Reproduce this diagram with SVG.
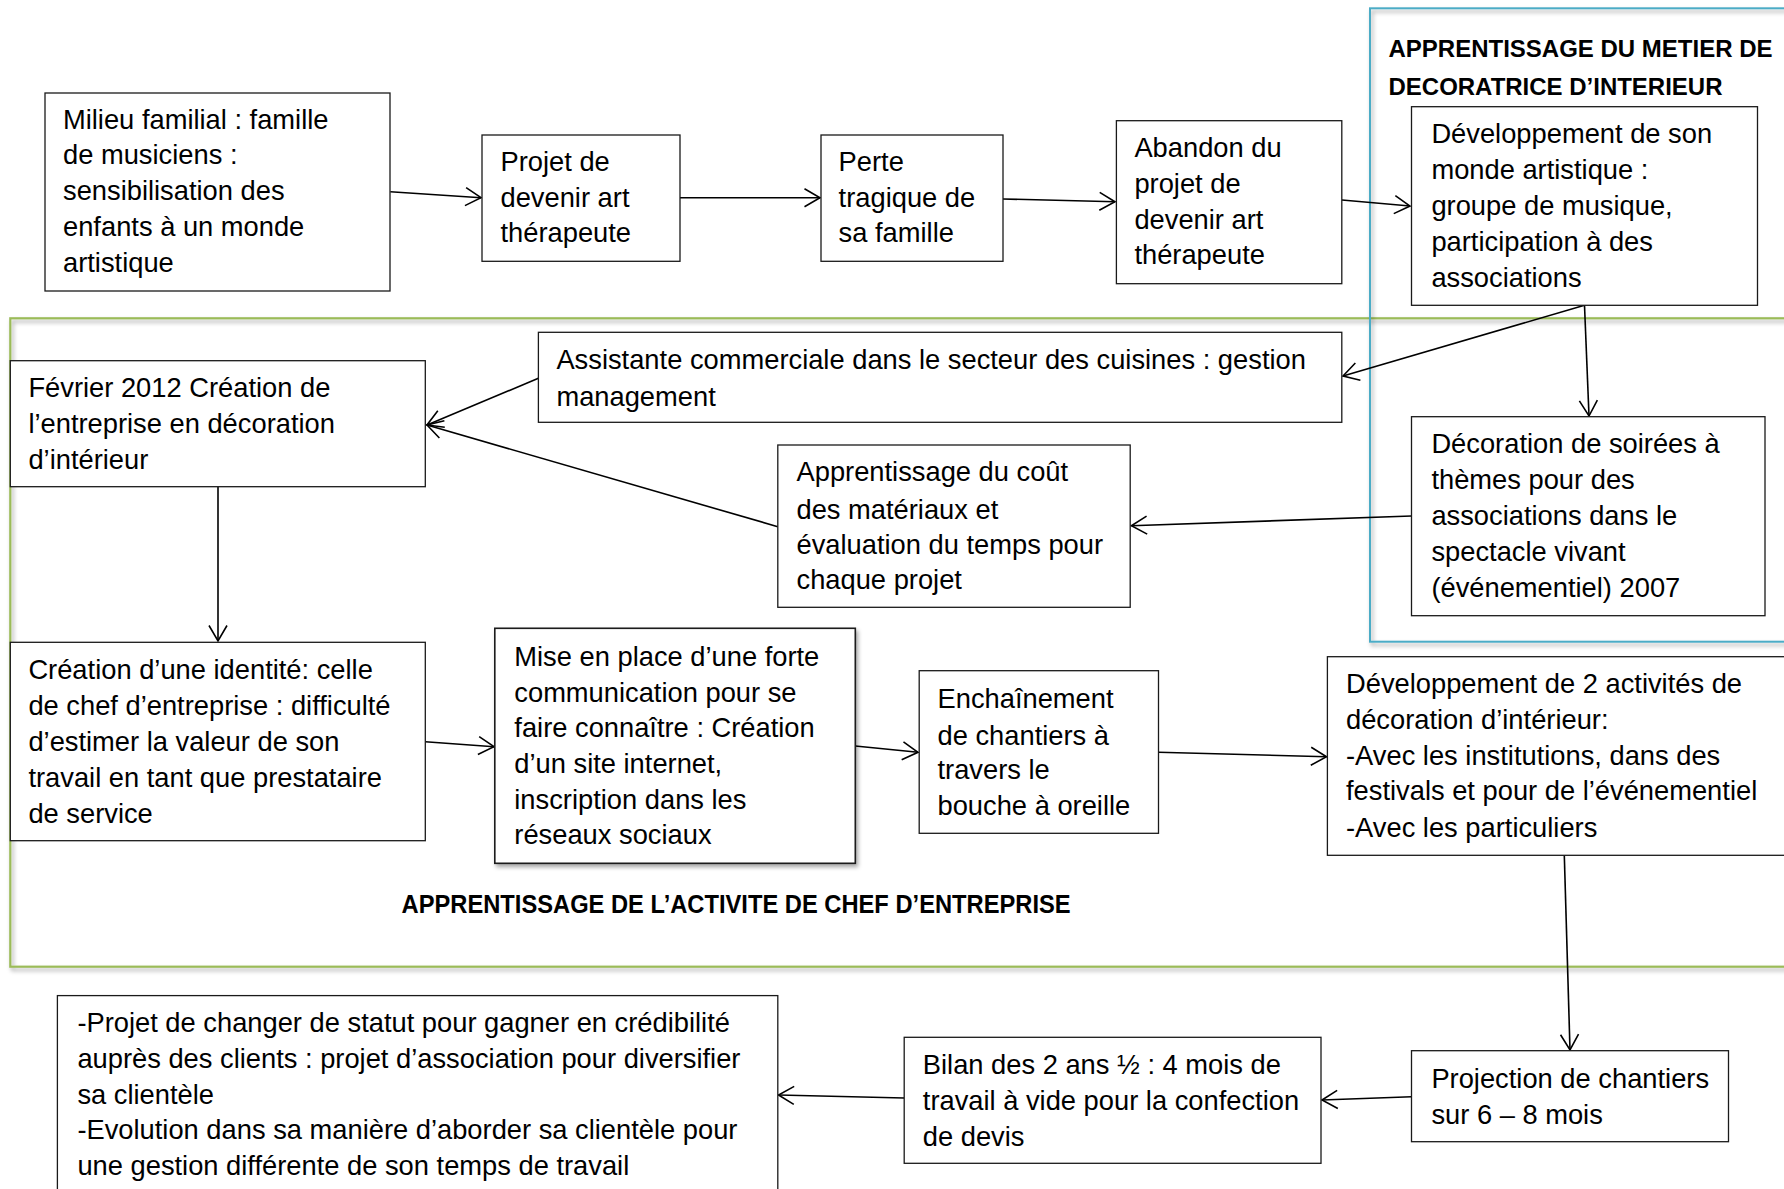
<svg xmlns="http://www.w3.org/2000/svg" width="1784" height="1189" viewBox="0 0 1784 1189">
<style>
  .bg{fill:#ffffff}
  .box{fill:#ffffff;stroke:#1a1a1a;stroke-width:1.3}
  .t{font-family:"Liberation Sans",Arial,sans-serif;font-size:27.3px;fill:#000}
  .title{font-family:"Liberation Sans",Arial,sans-serif;font-size:26px;font-weight:bold;fill:#000}
  .title-s{font-family:"Liberation Sans",Arial,sans-serif;font-size:23.5px;font-weight:bold;fill:#000}
  .con{fill:none;stroke:#000;stroke-width:1.6}
  .grp-blue{fill:none;stroke:#4bacc6;stroke-width:2}
  .grp-green{fill:none;stroke:#9bbb59;stroke-width:2.2}
</style>
<defs>
  <marker id="arr" viewBox="-18 -11 20 22" refX="0" refY="0" markerWidth="20" markerHeight="22" markerUnits="userSpaceOnUse" orient="auto">
    <path d="M-15.5,-9 L0,0 L-15.5,9" fill="none" stroke="#000" stroke-width="1.6"/>
  </marker>
  <filter id="sh" x="-5%" y="-5%" width="115%" height="115%">
    <feDropShadow dx="2" dy="3" stdDeviation="2" flood-color="#000" flood-opacity="0.35"/>
  </filter>
</defs>
<rect class="bg" x="0" y="0" width="1784" height="1189"/>

<g id="group-chef-entreprise">
  <rect class="grp-green" x="10.3" y="318.3" width="1800" height="648.4" filter="url(#sh)"/>
  <text class="title" x="401.6" y="913" textLength="669" lengthAdjust="spacingAndGlyphs">APPRENTISSAGE DE L’ACTIVITE DE CHEF D’ENTREPRISE</text>
</g>
<g id="group-decoratrice">
  <rect class="grp-blue" x="1370" y="8.3" width="440" height="633.4" filter="url(#sh)"/>
  <text class="title-s" x="1388.5" y="56.7" textLength="384" lengthAdjust="spacingAndGlyphs">APPRENTISSAGE DU METIER DE</text>
  <text class="title-s" x="1388.5" y="94.8" textLength="334" lengthAdjust="spacingAndGlyphs">DECORATRICE D’INTERIEUR</text>
</g>

<g id="connectors">
  <line class="con" x1="390.3" y1="191.7" x2="481" y2="197.7" marker-end="url(#arr)"/>
  <line class="con" x1="680" y1="197.7" x2="820" y2="197.7" marker-end="url(#arr)"/>
  <line class="con" x1="1003" y1="199" x2="1115" y2="201.7" marker-end="url(#arr)"/>
  <line class="con" x1="1342" y1="200" x2="1410" y2="206" marker-end="url(#arr)"/>
  <line class="con" x1="1584.5" y1="305.3" x2="1343" y2="376" marker-end="url(#arr)"/>
  <line class="con" x1="1584.5" y1="305.3" x2="1589" y2="416" marker-end="url(#arr)"/>
  <line class="con" x1="538.4" y1="378.3" x2="427" y2="425" marker-end="url(#arr)"/>
  <line class="con" x1="777.8" y1="526.7" x2="427" y2="425" marker-end="url(#arr)"/>
  <line class="con" x1="1411.5" y1="516" x2="1131.4" y2="525.7" marker-end="url(#arr)"/>
  <line class="con" x1="218" y1="486.7" x2="218" y2="641" marker-end="url(#arr)"/>
  <line class="con" x1="425.3" y1="741.7" x2="494" y2="746.7" marker-end="url(#arr)"/>
  <line class="con" x1="855.3" y1="746" x2="918" y2="752.3" marker-end="url(#arr)"/>
  <line class="con" x1="1158.5" y1="752.3" x2="1326.5" y2="756.7" marker-end="url(#arr)"/>
  <line class="con" x1="1564.3" y1="855.3" x2="1570" y2="1050" marker-end="url(#arr)"/>
  <line class="con" x1="1411.5" y1="1096.7" x2="1322" y2="1100" marker-end="url(#arr)"/>
  <line class="con" x1="904.2" y1="1098" x2="778.5" y2="1095" marker-end="url(#arr)"/>
</g>

<g id="node-milieu">
  <rect class="box" x="45" y="93" width="345" height="198"/>
  <text class="t" x="63" y="128.5">Milieu familial : famille</text>
  <text class="t" x="63" y="164.4">de musiciens :</text>
  <text class="t" x="63" y="200.3">sensibilisation des</text>
  <text class="t" x="63" y="236.2">enfants à un monde</text>
  <text class="t" x="63" y="272.1">artistique</text>
</g>
<g id="node-projet">
  <rect class="box" x="482" y="135" width="198" height="126.3"/>
  <text class="t" x="500.5" y="171">Projet de</text>
  <text class="t" x="500.5" y="206.8">devenir art</text>
  <text class="t" x="500.5" y="242">thérapeute</text>
</g>
<g id="node-perte">
  <rect class="box" x="821" y="135" width="182" height="126.3"/>
  <text class="t" x="838.6" y="171">Perte</text>
  <text class="t" x="838.6" y="206.8">tragique de</text>
  <text class="t" x="838.6" y="242">sa famille</text>
</g>
<g id="node-abandon">
  <rect class="box" x="1116.4" y="120.7" width="225.4" height="163"/>
  <text class="t" x="1134.4" y="157">Abandon du</text>
  <text class="t" x="1134.4" y="193">projet de</text>
  <text class="t" x="1134.4" y="228.6">devenir art</text>
  <text class="t" x="1134.4" y="264">thérapeute</text>
</g>
<g id="node-dev-artistique">
  <rect class="box" x="1411.5" y="106.7" width="346" height="198.6"/>
  <text class="t" x="1431.4" y="143.3">Développement de son</text>
  <text class="t" x="1431.4" y="179.3">monde artistique :</text>
  <text class="t" x="1431.4" y="215.3">groupe de musique,</text>
  <text class="t" x="1431.4" y="251.3">participation à des</text>
  <text class="t" x="1431.4" y="287.3">associations</text>
</g>
<g id="node-decoration-soirees">
  <rect class="box" x="1411.5" y="416.7" width="353.5" height="199"/>
  <text class="t" x="1431.4" y="453">Décoration de soirées à</text>
  <text class="t" x="1431.4" y="489">thèmes pour des</text>
  <text class="t" x="1431.4" y="525">associations dans le</text>
  <text class="t" x="1431.4" y="561">spectacle vivant</text>
  <text class="t" x="1431.4" y="597">(événementiel) 2007</text>
</g>
<g id="node-assistante">
  <rect class="box" x="538.4" y="332.3" width="803.4" height="90"/>
  <text class="t" x="556.4" y="368.5">Assistante commerciale dans le secteur des cuisines : gestion</text>
  <text class="t" x="556.4" y="406">management</text>
</g>
<g id="node-fevrier">
  <rect class="box" x="10.3" y="360.7" width="415" height="126"/>
  <text class="t" x="28.4" y="397">Février 2012 Création de</text>
  <text class="t" x="28.4" y="433.4">l’entreprise en décoration</text>
  <text class="t" x="28.4" y="468.7">d’intérieur</text>
</g>
<g id="node-apprentissage-cout">
  <rect class="box" x="777.8" y="445" width="352.4" height="162.3"/>
  <text class="t" x="796.5" y="481">Apprentissage du coût</text>
  <text class="t" x="796.5" y="518.7">des matériaux et</text>
  <text class="t" x="796.5" y="554">évaluation du temps pour</text>
  <text class="t" x="796.5" y="588.5">chaque projet</text>
</g>
<g id="node-creation-identite">
  <rect class="box" x="10.3" y="642.3" width="415" height="198.4"/>
  <text class="t" x="28.4" y="679">Création d’une identité: celle</text>
  <text class="t" x="28.4" y="715.3">de chef d’entreprise : difficulté</text>
  <text class="t" x="28.4" y="751">d’estimer la valeur de son</text>
  <text class="t" x="28.4" y="786.5">travail en tant que prestataire</text>
  <text class="t" x="28.4" y="822.5">de service</text>
</g>
<g id="node-communication">
  <rect class="box" x="494.8" y="628.3" width="360.5" height="235" filter="url(#sh)" style="stroke-width:1.6"/>
  <text class="t" x="514.3" y="665.5">Mise en place d’une forte</text>
  <text class="t" x="514.3" y="701.5">communication pour se</text>
  <text class="t" x="514.3" y="737">faire connaître : Création</text>
  <text class="t" x="514.3" y="772.5">d’un site internet,</text>
  <text class="t" x="514.3" y="808.5">inscription dans les</text>
  <text class="t" x="514.3" y="844">réseaux sociaux</text>
</g>
<g id="node-enchainement">
  <rect class="box" x="919.2" y="670.7" width="239.3" height="162.6"/>
  <text class="t" x="937.5" y="707.6">Enchaînement</text>
  <text class="t" x="937.5" y="744.5">de chantiers à</text>
  <text class="t" x="937.5" y="779.3">travers le</text>
  <text class="t" x="937.5" y="814.6">bouche à oreille</text>
</g>
<g id="node-deux-activites">
  <rect class="box" x="1327.4" y="656.7" width="470" height="198.6"/>
  <text class="t" x="1346" y="692.8">Développement de 2 activités de</text>
  <text class="t" x="1346" y="729">décoration d’intérieur:</text>
  <text class="t" x="1346" y="764.5">-Avec les institutions, dans des</text>
  <text class="t" x="1346" y="799.8">festivals et pour de l’événementiel</text>
  <text class="t" x="1346" y="837">-Avec les particuliers</text>
</g>
<g id="node-projection">
  <rect class="box" x="1411.5" y="1050.7" width="317" height="91"/>
  <text class="t" x="1431.4" y="1087.6">Projection de chantiers</text>
  <text class="t" x="1431.4" y="1124">sur 6 – 8 mois</text>
</g>
<g id="node-bilan">
  <rect class="box" x="904.2" y="1037.3" width="416.8" height="126"/>
  <text class="t" x="922.8" y="1074">Bilan des 2 ans ½ : 4 mois de</text>
  <text class="t" x="922.8" y="1110.4">travail à vide pour la confection</text>
  <text class="t" x="922.8" y="1145.7">de devis</text>
</g>
<g id="node-projet-statut">
  <rect class="box" x="57.4" y="995.6" width="720.4" height="210"/>
  <text class="t" x="77.4" y="1032">-Projet de changer de statut pour gagner en crédibilité</text>
  <text class="t" x="77.4" y="1068">auprès des clients : projet d’association pour diversifier</text>
  <text class="t" x="77.4" y="1103.5">sa clientèle</text>
  <text class="t" x="77.4" y="1139">-Evolution dans sa manière d’aborder sa clientèle pour</text>
  <text class="t" x="77.4" y="1175">une gestion différente de son temps de travail</text>
</g>
</svg>
